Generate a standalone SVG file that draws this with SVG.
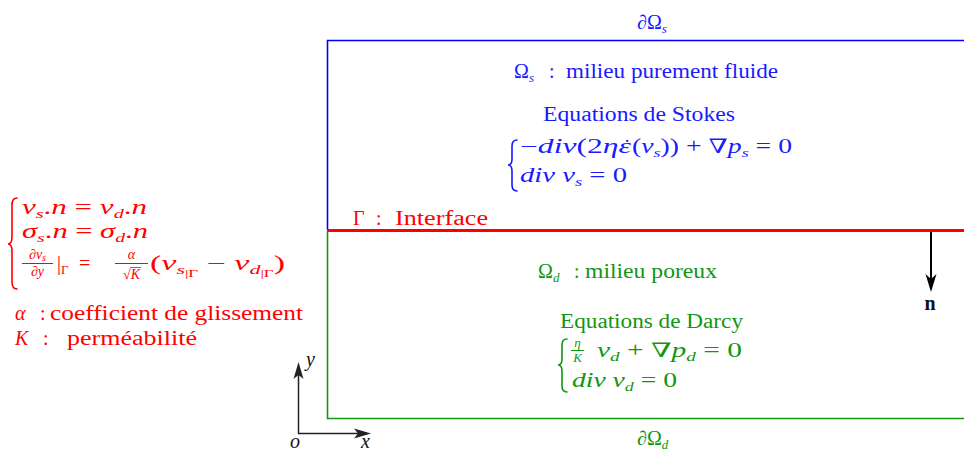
<svg xmlns="http://www.w3.org/2000/svg" width="964" height="451" viewBox="0 0 964 451" font-family="Liberation Serif, DejaVu Serif, serif" font-size="20">
<defs>
<style>
.i{font-style:italic}
.b{fill:#1a1aff}
.g{fill:#119611}
.r{fill:#ff0000}
.k{fill:#111}
.s{font-size:13px}
.f{font-size:14px}
.ss{font-size:10px}
.br{fill:none;stroke-width:1.6;stroke-linecap:round}
</style>
</defs>
<rect width="964" height="451" fill="#fff"/>

<g id="stokes-domain">
<path d="M964,40.5 H327.5 V230" fill="none" stroke="#0000ff" stroke-width="1.6"/>
<text x="637" y="29" class="b">∂Ω<tspan class="i s" dy="4">s</tspan></text>
<text x="514" y="78" class="b">Ω<tspan class="i s" dy="4">s</tspan></text>
<text x="549" y="78" class="b">:</text>
<text x="566" y="78" class="b" textLength="212" lengthAdjust="spacingAndGlyphs">milieu purement fluide</text>
<text x="543" y="121" class="b" textLength="192" lengthAdjust="spacingAndGlyphs">Equations de Stokes</text>
<path class="br" stroke="#1a1aff" d="M517,140 Q512,140 512,146 L512,159 Q512,165 508,165 Q512,165 512,171 L512,185 Q512,191 517,191"/>
<text x="520" y="153" class="b" textLength="111" lengthAdjust="spacingAndGlyphs">−<tspan class="i">div</tspan>(2<tspan class="i">ηε</tspan></text>
<text x="627" y="154" class="b" text-anchor="middle">˙</text>
<text x="632" y="153" class="b" textLength="160" lengthAdjust="spacingAndGlyphs">(<tspan class="i">v</tspan><tspan class="i s" dy="4">s</tspan><tspan dy="-4">)) + ∇</tspan><tspan class="i">p</tspan><tspan class="i s" dy="4">s</tspan><tspan dy="-4"> = 0</tspan></text>
<text x="520" y="182" class="b" textLength="107" lengthAdjust="spacingAndGlyphs"><tspan class="i">div v</tspan><tspan class="i s" dy="4">s</tspan><tspan dy="-4"> = 0</tspan></text>
</g>

<g id="interface">
<line x1="327" y1="230.5" x2="964" y2="230.5" stroke="#ff0000" stroke-width="3"/>
<text x="353" y="225" class="r">Γ</text>
<text x="376" y="225" class="r">:</text>
<text x="395" y="225" class="r" textLength="93" lengthAdjust="spacingAndGlyphs">Interface</text>
</g>

<g id="darcy-domain">
<path d="M327.5,231 V418.5 H964" fill="none" stroke="#119611" stroke-width="1.6"/>
<text x="637" y="445" class="g">∂Ω<tspan class="i s" dy="4">d</tspan></text>
<text x="538" y="278" class="g">Ω<tspan class="i s" dy="4">d</tspan></text>
<text x="574" y="278" class="g">:</text>
<text x="585" y="278" class="g" textLength="132" lengthAdjust="spacingAndGlyphs">milieu poreux</text>
<text x="560" y="328" class="g" textLength="183" lengthAdjust="spacingAndGlyphs">Equations de Darcy</text>
<path class="br" stroke="#119611" d="M567,339 Q562,339 562,345 L562,359 Q562,365 558,365 Q562,365 562,371 L562,386 Q562,392 567,392"/>
<text x="577.5" y="347" class="g i s" text-anchor="middle">η</text>
<line x1="571" y1="350.5" x2="584" y2="350.5" stroke="#119611" stroke-width="1"/>
<text x="577.5" y="362" class="g i s" text-anchor="middle">K</text>
<text x="597" y="357" class="g" textLength="145" lengthAdjust="spacingAndGlyphs"><tspan class="i">v</tspan><tspan class="i s" dy="4">d</tspan><tspan dy="-4"> + ∇</tspan><tspan class="i">p</tspan><tspan class="i s" dy="4">d</tspan><tspan dy="-4"> = 0</tspan></text>
<text x="572" y="387" class="g" textLength="105" lengthAdjust="spacingAndGlyphs"><tspan class="i">div v</tspan><tspan class="i s" dy="4">d</tspan><tspan dy="-4"> = 0</tspan></text>
</g>

<g id="interface-conditions">
<path class="br" stroke="#ff0000" d="M17,198 Q12,198 12,205 L12,237 Q12,244 8,244 Q12,244 12,251 L12,282 Q12,289 17,289"/>
<text x="22" y="214" class="r" textLength="125" lengthAdjust="spacingAndGlyphs"><tspan class="i">v</tspan><tspan class="i s" dy="4">s</tspan><tspan dy="-4">.</tspan><tspan class="i">n</tspan> = <tspan class="i">v</tspan><tspan class="i s" dy="4">d</tspan><tspan dy="-4">.</tspan><tspan class="i">n</tspan></text>
<text x="22" y="238" class="r" textLength="126" lengthAdjust="spacingAndGlyphs"><tspan class="i">σ</tspan><tspan class="i s" dy="4">s</tspan><tspan dy="-4">.</tspan><tspan class="i">n</tspan> = <tspan class="i">σ</tspan><tspan class="i s" dy="4">d</tspan><tspan dy="-4">.</tspan><tspan class="i">n</tspan></text>
<text x="37.5" y="259" class="r f" text-anchor="middle">∂<tspan class="i">v</tspan><tspan class="i ss" dy="2">s</tspan></text>
<line x1="22" y1="263.5" x2="53" y2="263.5" stroke="#ff0000" stroke-width="1"/>
<text x="37.5" y="276" class="r f" text-anchor="middle">∂<tspan class="i">y</tspan></text>
<text x="57" y="270" class="r">|<tspan class="s" dy="4">Γ</tspan></text>
<text x="79" y="270" class="r">=</text>
<text x="131.5" y="259" class="r i f" text-anchor="middle">α</text>
<line x1="115" y1="263.5" x2="148" y2="263.5" stroke="#ff0000" stroke-width="1"/>
<text x="131.5" y="279" class="r f" text-anchor="middle">√<tspan class="i">K</tspan></text>
<line x1="130" y1="267.5" x2="141" y2="267.5" stroke="#ff0000" stroke-width="0.8"/>
<text x="150" y="270" class="r" textLength="135" lengthAdjust="spacingAndGlyphs">(<tspan class="i">v</tspan><tspan class="i s" dy="4">s</tspan><tspan class="ss" dy="3">|Γ</tspan><tspan dy="-7"> − </tspan><tspan class="i">v</tspan><tspan class="i s" dy="4">d</tspan><tspan class="ss" dy="3">|Γ</tspan><tspan dy="-7">)</tspan></text>
<text x="15" y="320" class="r i">α</text>
<text x="40" y="320" class="r">:</text>
<text x="50" y="320" class="r" textLength="253" lengthAdjust="spacingAndGlyphs">coefficient de glissement</text>
<text x="15" y="345" class="r i">K</text>
<text x="43" y="345" class="r">:</text>
<text x="67" y="345" class="r" textLength="130" lengthAdjust="spacingAndGlyphs">perméabilité</text>
</g>

<g id="axes">
<text x="306" y="366" class="k i">y</text>
<text x="290" y="448" class="k i">o</text>
<text x="361" y="448" class="k i">x</text>
</g>

<g id="normal">
<text x="930" y="310" class="k" font-weight="bold" text-anchor="middle">n</text>
</g>

<g id="connectors">
<line x1="298.5" y1="434" x2="298.5" y2="372" stroke="#222" stroke-width="1.5"/>
<path d="M298.5,362 L303.5,379 L298.5,375 L293.5,379 Z" fill="#222"/>
<line x1="298" y1="433.5" x2="360" y2="433.5" stroke="#222" stroke-width="1.5"/>
<path d="M371,433.5 L354,428.5 L358,433.5 L354,438.5 Z" fill="#222"/>
<line x1="931" y1="232" x2="931" y2="282" stroke="#000" stroke-width="2"/>
<path d="M931,292 L925.5,274 L931,279 L936.5,274 Z" fill="#000"/>
</g>
</svg>
